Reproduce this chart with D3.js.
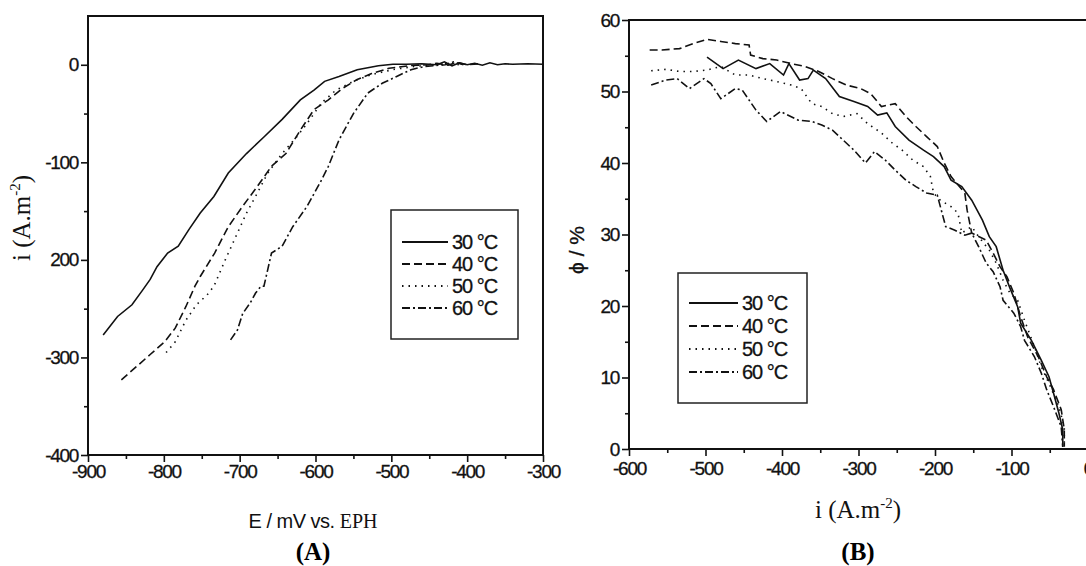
<!DOCTYPE html>
<html>
<head>
<meta charset="utf-8">
<script src="https://cdn.jsdelivr.net/npm/d3@7"></script>
<style>
  body { margin: 0; background: white; }
  svg { display: block; }
  .tick text { font-family: "Liberation Sans", Arial, sans-serif; font-size: 19px; letter-spacing: -1.3px; fill: #111; stroke: #111; stroke-width: 0.3px; }
  .serif { font-family: "Liberation Serif", "Times New Roman", serif; }
  .sans { font-family: "Liberation Sans", Arial, sans-serif; }
</style>
</head>
<body>
<svg id="chart" width="1086" height="566"></svg>
<script>
// series labels and dash styles
const SERIES = ['30 °C', '40 °C', '50 °C', '60 °C'];
const DASHES = [null, '8,4', '1.5,5', '8,3,2,3'];

// panel A : E (mV vs EPH) -> i (A.m-2)
const polA30 = [[-880,-277],[-861,-258],[-842,-246],[-828,-231],[-818,-220],[-809,-207],[-795,-193],[-781,-186],[-767,-169],[-752,-152],[-734,-135],[-715,-111],[-691,-91],[-668,-74],[-644,-56],[-620,-36],[-602,-26],[-588,-17],[-569,-12],[-545,-5],[-517,-1],[-498,0.5],[-480,0.5],[-460,1],[-440,0],[-430,3],[-420,-1],[-410,2],[-400,0],[-390,1.5],[-380,-0.5],[-370,2],[-360,0],[-350,1],[-340,0.5],[-320,1],[-300,0.5]];
const polA40 = [[-856,-323],[-837,-310],[-818,-297],[-799,-284],[-785,-270],[-771,-248],[-759,-227],[-752,-217],[-733,-193],[-715,-166],[-696,-145],[-677,-125],[-658,-104],[-639,-91],[-620,-67],[-602,-46],[-583,-36],[-564,-24],[-545,-15],[-526,-9],[-503,-3.5],[-474,-0.7],[-451,0],[-440,1.5],[-425,-0.5],[-415,2.5],[-400,0],[-385,1]];
const polA50 = [[-797,-295],[-785,-284],[-771,-262],[-757,-246],[-743,-236],[-734,-227],[-719,-200],[-705,-176],[-691,-152],[-677,-132],[-663,-111],[-644,-91],[-625,-74],[-611,-60],[-592,-39],[-573,-26],[-550,-17],[-526,-10],[-498,-5],[-470,-1.7],[-442,0],[-430,2],[-418,-1],[-405,1.5]];
const polA60 = [[-712,-282],[-703,-272],[-696,-255],[-686,-244],[-679,-234],[-672,-227],[-668,-227],[-658,-193],[-644,-186],[-630,-166],[-611,-145],[-592,-118],[-583,-104],[-569,-77],[-550,-50],[-531,-29],[-512,-19],[-493,-12],[-474,-5],[-456,-1.7],[-429,0],[-418,3],[-405,0]];

// panel B : i (A.m-2) -> phi (%)
const polB30 = [[-498,54.8],[-477,53.2],[-457,54.4],[-434,53.2],[-416,53.9],[-398,52.3],[-391,53.9],[-377,51.6],[-366,51.8],[-359,53],[-343,51.8],[-325,49.3],[-306,48.6],[-288,47.9],[-275,46.7],[-263,47],[-252,45.1],[-234,43.2],[-215,41.8],[-202,40.9],[-188,39.5],[-179,37.6],[-165,36.7],[-152,34.8],[-138,32],[-129,29.7],[-120,28.3],[-111,25],[-102,22.5],[-92,19.9],[-88,17.6],[-74,15.2],[-61,12.4],[-51,10.1],[-45,7.8],[-38,5],[-33,2.7],[-33,0.3]];
const polB40 = [[-573,55.8],[-557,55.8],[-534,56],[-516,56.7],[-498,57.3],[-480,57],[-461,56.7],[-443,56.5],[-441,55.1],[-425,54.6],[-407,54.4],[-388,53.9],[-370,53.5],[-352,52.8],[-334,51.8],[-316,50.9],[-297,50.4],[-284,49.7],[-270,47.9],[-252,48.3],[-238,46.5],[-225,45.1],[-211,43.7],[-197,42.3],[-188,40],[-179,38.1],[-161,35.8],[-158,33.4],[-152,30.2],[-133,29.2],[-124,27.4],[-115,25.5],[-106,24.1],[-97,21.8],[-88,18.5],[-79,15.7],[-65,12.9],[-54,10.1],[-45,8.3],[-35,5.5],[-31,2.7],[-31,0.3]];
const polB50 = [[-571,52.9],[-552,53.1],[-534,52.8],[-516,52.8],[-498,53],[-480,53.5],[-461,52.3],[-443,52.3],[-425,51.8],[-407,51.4],[-388,50.9],[-375,50.4],[-361,48.3],[-348,47.9],[-334,46.9],[-320,46.5],[-302,46.9],[-288,45.5],[-270,44.2],[-256,42.8],[-243,41.8],[-229,40.4],[-215,39.5],[-206,38.1],[-202,35.8],[-193,34.8],[-179,33.9],[-170,33],[-165,30.2],[-152,31.1],[-143,29.7],[-129,27.8],[-120,26],[-111,23.6],[-102,21.8],[-92,20.8],[-83,18],[-70,14.3],[-61,11.5],[-49,8.7],[-38,5.9],[-31,3.1],[-31,0.5]];
const polB60 = [[-571,50.9],[-552,51.6],[-537,51.8],[-521,50.4],[-502,51.8],[-493,51.1],[-480,49],[-461,50.4],[-452,50.2],[-434,47.4],[-420,45.8],[-402,47.2],[-379,46],[-361,45.8],[-348,45.3],[-334,44.6],[-320,43.2],[-306,41.8],[-291,40],[-279,41.6],[-265,40.4],[-252,39],[-238,37.6],[-225,36.7],[-211,35.8],[-197,35.5],[-193,33.9],[-186,31.1],[-174,30.6],[-161,29.9],[-152,30.2],[-143,28.3],[-133,26],[-124,24.8],[-115,22.7],[-111,20.8],[-97,19],[-88,17.1],[-83,15.2],[-70,12.9],[-61,10.6],[-54,8.3],[-45,5.9],[-35,3.1],[-33,0.3]];

// tick values and labels
const ticksAx = [-900, -800, -700, -600, -500, -400, -300];
const ticksAy = [0, -100, -200, -300, -400];
const labelsAy = ['0', '-100', '200', '-300', '-400'];
const ticksBx = [-600, -500, -400, -300, -200, -100, 0];
const ticksBy = [0, 10, 20, 30, 40, 50, 60];

const svg = d3.select('#chart');

function drawPanel(opt) {
  const g = svg.append('g');
  const x = d3.scaleLinear().domain(opt.xDomain).range(opt.xRange);
  const y = d3.scaleLinear().domain(opt.yDomain).range(opt.yRange);

  // minor ticks
  const xAxisMinor = d3.axisBottom(x).tickValues(opt.xMinor).tickSize(4).tickFormat('');
  const yAxisMinor = d3.axisLeft(y).tickValues(opt.yMinor).tickSize(4).tickFormat('');
  g.append('g').attr('transform', `translate(0,${opt.yRange[0]})`).call(xAxisMinor);
  g.append('g').attr('transform', `translate(${opt.xRange[0]},0)`).call(yAxisMinor);

  const xAxis = d3.axisBottom(x).tickValues(opt.xTicks).tickSize(7).tickPadding(opt.xPad).tickFormat(d3.format('d'));
  const yAxis = d3.axisLeft(y).tickValues(opt.yTicks).tickSize(7).tickPadding(3)
    .tickFormat((d, i) => opt.yLabels ? opt.yLabels[i] : d);
  g.append('g').attr('transform', `translate(0,${opt.yRange[0]})`).call(xAxis);
  g.append('g').attr('transform', `translate(${opt.xRange[0]},0)`).call(yAxis);
  g.selectAll('.domain').remove();
  g.selectAll('.tick line').attr('stroke', '#111').attr('stroke-width', 1.6);
  g.selectAll('.tick text').text(function () { return this.textContent.replace('−', '-'); });

  // frame
  g.append('rect')
    .attr('x', opt.xRange[0]).attr('y', opt.yRange[1])
    .attr('width', opt.xRange[1] - opt.xRange[0])
    .attr('height', opt.yRange[0] - opt.yRange[1])
    .attr('fill', 'none').attr('stroke', '#111').attr('stroke-width', 2);

  const line = d3.line().x(d => x(d[0])).y(d => y(d[1]));
  opt.data.forEach((d, i) => {
    g.append('path')
      .datum(d)
      .attr('d', line)
      .attr('fill', 'none')
      .attr('stroke', '#111')
      .attr('stroke-width', 1.6)
      .attr('stroke-dasharray', DASHES[i]);
  });

  // legend
  const L = opt.legend;
  g.append('rect')
    .attr('x', L.x).attr('y', L.y).attr('width', L.w).attr('height', L.h)
    .attr('fill', 'white').attr('stroke', '#222').attr('stroke-width', 1.5);
  SERIES.forEach((s, i) => {
    const yy = L.row0 + i * L.step;
    g.append('line')
      .attr('x1', L.lx0).attr('x2', L.lx1).attr('y1', yy).attr('y2', yy)
      .attr('stroke', '#111').attr('stroke-width', 2)
      .attr('stroke-dasharray', DASHES[i]);
    g.append('text')
      .attr('class', 'sans')
      .attr('x', L.tx).attr('y', yy + 7)
      .attr('font-size', 20).attr('letter-spacing', -1)
      .attr('fill', '#111').attr('stroke', '#111').attr('stroke-width', 0.3)
      .text(s);
  });
  return g;
}

drawPanel({
  xDomain: [-900, -300], xRange: [88, 543],
  yDomain: [-400, 50], yRange: [455, 16],
  xTicks: ticksAx, yTicks: ticksAy, yLabels: labelsAy, xPad: 3,
  xMinor: d3.range(-850, -300, 100), yMinor: d3.range(-350, 50, 100),
  data: [polA30, polA40, polA50, polA60],
  legend: { x: 391, y: 210, w: 127, h: 129, lx0: 402, lx1: 448, tx: 452, row0: 242, step: 22 }
});

drawPanel({
  xDomain: [-600, 0], xRange: [629, 1088],
  yDomain: [0, 60], yRange: [449, 20],
  xTicks: ticksBx, yTicks: ticksBy, xPad: 6,
  xMinor: d3.range(-550, 0, 100), yMinor: d3.range(5, 60, 10),
  data: [polB30, polB40, polB50, polB60],
  legend: { x: 678, y: 273, w: 129, h: 130, lx0: 689, lx1: 738, tx: 742, row0: 303, step: 23 }
});

// axis titles, panel A
const tA = svg.append('text').attr('x', 313).attr('y', 528).attr('text-anchor', 'middle')
  .attr('font-size', 20).attr('fill', '#111');
tA.append('tspan').attr('class', 'sans').attr('letter-spacing', -0.5).text('E / mV vs. ');
tA.append('tspan').attr('class', 'serif').text('EPH');

const yA = svg.append('text').attr('class', 'serif')
  .attr('transform', 'translate(30,218) rotate(-90)')
  .attr('text-anchor', 'middle').attr('font-size', 25).attr('fill', '#111');
yA.append('tspan').text('i (A.m');
yA.append('tspan').attr('font-size', 15).attr('dy', -10).text('-2');
yA.append('tspan').attr('dy', 10).text(')');

svg.append('text').attr('class', 'serif').attr('x', 313).attr('y', 560)
  .attr('text-anchor', 'middle').attr('font-size', 25).attr('font-weight', 'bold').text('(A)');

// axis titles, panel B
const tB = svg.append('text').attr('class', 'serif').attr('x', 858).attr('y', 518)
  .attr('text-anchor', 'middle').attr('font-size', 25).attr('fill', '#111');
tB.append('tspan').text('i (A.m');
tB.append('tspan').attr('font-size', 15).attr('dy', -10).text('-2');
tB.append('tspan').attr('dy', 10).text(')');

svg.append('text').attr('class', 'sans')
  .attr('transform', 'translate(584,250) rotate(-90)')
  .attr('text-anchor', 'middle').attr('font-size', 21).attr('fill', '#111')
  .attr('stroke', '#111').attr('stroke-width', 0.3).text('ϕ / %');

svg.append('text').attr('class', 'serif').attr('x', 858).attr('y', 560)
  .attr('text-anchor', 'middle').attr('font-size', 25).attr('font-weight', 'bold').text('(B)');
</script>
</body>
</html>
